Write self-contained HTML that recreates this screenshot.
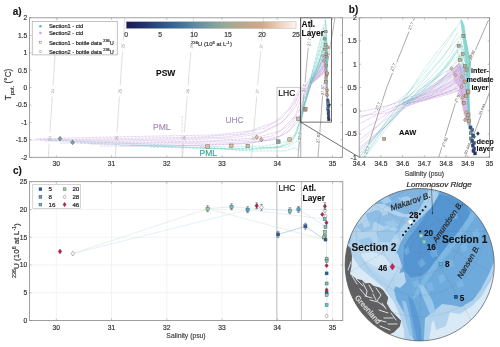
<!DOCTYPE html><html><head><meta charset="utf-8"><style>html,body{margin:0;padding:0;background:#fff;width:500px;height:347px;overflow:hidden} svg{display:block;will-change:transform} text{font-family:"Liberation Sans", sans-serif}</style></head><body>
<svg width="500" height="347" viewBox="0 0 500 347">
<defs>
<clipPath id="ca"><rect x="29.5" y="17.8" width="313" height="139.5"/></clipPath>
<clipPath id="cb"><rect x="359.2" y="17.8" width="130.4" height="139.4"/></clipPath>
<clipPath id="cc"><rect x="29.5" y="181.7" width="313.3" height="138.8"/></clipPath>
<clipPath id="cm"><ellipse cx="419.7" cy="264.7" rx="74.6" ry="76.2"/></clipPath>
<linearGradient id="cbar" x1="0" x2="1" y1="0" y2="0"><stop offset="0.0" stop-color="#1b1b55"/><stop offset="0.05" stop-color="#1d2561"/><stop offset="0.1" stop-color="#20306e"/><stop offset="0.15" stop-color="#25407b"/><stop offset="0.2" stop-color="#2a5088"/><stop offset="0.25" stop-color="#325e91"/><stop offset="0.3" stop-color="#3a6c9a"/><stop offset="0.35" stop-color="#497a9e"/><stop offset="0.4" stop-color="#5a8aa3"/><stop offset="0.45" stop-color="#6a94a1"/><stop offset="0.5" stop-color="#7a9fa0"/><stop offset="0.55" stop-color="#8ca59b"/><stop offset="0.6" stop-color="#9eab96"/><stop offset="0.65" stop-color="#ada990"/><stop offset="0.7" stop-color="#bca88a"/><stop offset="0.75" stop-color="#c7a887"/><stop offset="0.8" stop-color="#d3a985"/><stop offset="0.85" stop-color="#e0bb9f"/><stop offset="0.9" stop-color="#efcfba"/><stop offset="0.95" stop-color="#f6e1d5"/><stop offset="1.0" stop-color="#fdf5f2"/></linearGradient>
</defs>
<path d="M182.2,116 V157" stroke="#999" stroke-width="0.5" stroke-dasharray="0.6 0.8"/>
<path clip-path="url(#ca)" fill="none" stroke="#c4c4c4" stroke-width="0.55" d="M57.5,17.8 L48.3,157.3"/>
<path clip-path="url(#ca)" fill="none" stroke="#c4c4c4" stroke-width="0.55" d="M124.8,17.8 L115.3,157.3"/>
<path clip-path="url(#ca)" fill="none" stroke="#c4c4c4" stroke-width="0.55" d="M193.5,17.8 L182.4,157.3"/>
<path clip-path="url(#ca)" fill="none" stroke="#c4c4c4" stroke-width="0.55" d="M263.5,17.8 L251.5,157.3"/>
<path clip-path="url(#ca)" fill="none" stroke="#777" stroke-width="0.55" d="M311,17.8 L304.5,88 L298,157.3"/>
<path clip-path="url(#ca)" fill="none" stroke="#777" stroke-width="0.55" d="M335,17.8 L323,90 L318,157.3"/>
<g transform="translate(52.67247311827957,91) rotate(-85)"><rect x="-5.5" y="-2" width="11" height="4" fill="#fff"/><text x="0.00" y="1.60" font-size="4.2" fill="#999" stroke="#999" stroke-width="0" text-anchor="middle" font-weight="normal" font-style="normal" >24</text></g>
<g transform="translate(49.57283154121863,138) rotate(-85)"><rect x="-5.5" y="-2" width="11" height="4" fill="#fff"/><text x="0.00" y="1.60" font-size="4.2" fill="#999" stroke="#999" stroke-width="0" text-anchor="middle" font-weight="normal" font-style="normal" >24</text></g>
<g transform="translate(122.87956989247311,46) rotate(-85)"><rect x="-5.5" y="-2" width="11" height="4" fill="#fff"/><text x="0.00" y="1.60" font-size="4.2" fill="#999" stroke="#999" stroke-width="0" text-anchor="middle" font-weight="normal" font-style="normal" >25</text></g>
<g transform="translate(119.81505376344086,91) rotate(-85)"><rect x="-5.5" y="-2" width="11" height="4" fill="#fff"/><text x="0.00" y="1.60" font-size="4.2" fill="#999" stroke="#999" stroke-width="0" text-anchor="middle" font-weight="normal" font-style="normal" >25</text></g>
<g transform="translate(116.61433691756272,138) rotate(-85)"><rect x="-5.5" y="-2" width="11" height="4" fill="#fff"/><text x="0.00" y="1.60" font-size="4.2" fill="#999" stroke="#999" stroke-width="0" text-anchor="middle" font-weight="normal" font-style="normal" >25</text></g>
<g transform="translate(191.25612903225806,46) rotate(-85)"><rect x="-5.5" y="-2" width="11" height="4" fill="#fff"/><text x="0.00" y="1.60" font-size="4.2" fill="#999" stroke="#999" stroke-width="0" text-anchor="middle" font-weight="normal" font-style="normal" >26</text></g>
<g transform="translate(187.67548387096775,91) rotate(-85)"><rect x="-5.5" y="-2" width="11" height="4" fill="#fff"/><text x="0.00" y="1.60" font-size="4.2" fill="#999" stroke="#999" stroke-width="0" text-anchor="middle" font-weight="normal" font-style="normal" >26</text></g>
<g transform="translate(183.93569892473118,138) rotate(-85)"><rect x="-5.5" y="-2" width="11" height="4" fill="#fff"/><text x="0.00" y="1.60" font-size="4.2" fill="#999" stroke="#999" stroke-width="0" text-anchor="middle" font-weight="normal" font-style="normal" >26</text></g>
<g transform="translate(261.0741935483871,46) rotate(-85)"><rect x="-5.5" y="-2" width="11" height="4" fill="#fff"/><text x="0.00" y="1.60" font-size="4.2" fill="#999" stroke="#999" stroke-width="0" text-anchor="middle" font-weight="normal" font-style="normal" >27</text></g>
<g transform="translate(257.2032258064516,91) rotate(-85)"><rect x="-5.5" y="-2" width="11" height="4" fill="#fff"/><text x="0.00" y="1.60" font-size="4.2" fill="#999" stroke="#999" stroke-width="0" text-anchor="middle" font-weight="normal" font-style="normal" >27</text></g>
<g transform="translate(253.16021505376344,138) rotate(-85)"><rect x="-5.5" y="-2" width="11" height="4" fill="#fff"/><text x="0.00" y="1.60" font-size="4.2" fill="#999" stroke="#999" stroke-width="0" text-anchor="middle" font-weight="normal" font-style="normal" >27</text></g>
<g transform="translate(309,42) rotate(-85)"><rect x="-5.5" y="-2" width="11" height="4" fill="#fff"/><text x="0.00" y="1.60" font-size="4.2" fill="#555" stroke="#555" stroke-width="0" text-anchor="middle" font-weight="normal" font-style="normal" >27.7</text></g>
<g transform="translate(304,88) rotate(-85)"><rect x="-5.5" y="-2" width="11" height="4" fill="#fff"/><text x="0.00" y="1.60" font-size="4.2" fill="#555" stroke="#555" stroke-width="0" text-anchor="middle" font-weight="normal" font-style="normal" >27.7</text></g>
<g transform="translate(299.5,136) rotate(-85)"><rect x="-5.5" y="-2" width="11" height="4" fill="#fff"/><text x="0.00" y="1.60" font-size="4.2" fill="#555" stroke="#555" stroke-width="0" text-anchor="middle" font-weight="normal" font-style="normal" >27.7</text></g>
<g transform="translate(328,50) rotate(-85)"><rect x="-5.5" y="-2" width="11" height="4" fill="#fff"/><text x="0.00" y="1.60" font-size="4.2" fill="#555" stroke="#555" stroke-width="0" text-anchor="middle" font-weight="normal" font-style="normal" >27.87</text></g>
<g transform="translate(322.5,90) rotate(-85)"><rect x="-5.5" y="-2" width="11" height="4" fill="#fff"/><text x="0.00" y="1.60" font-size="4.2" fill="#555" stroke="#555" stroke-width="0" text-anchor="middle" font-weight="normal" font-style="normal" >27.87</text></g>
<g transform="translate(318,138) rotate(-85)"><rect x="-5.5" y="-2" width="11" height="4" fill="#fff"/><text x="0.00" y="1.60" font-size="4.2" fill="#555" stroke="#555" stroke-width="0" text-anchor="middle" font-weight="normal" font-style="normal" >27.87</text></g>
<g clip-path="url(#ca)" fill="none" stroke-linejoin="round">
<path d="M310.79,82.52 L317.40,70.51 L323.00,57.01 L325.03,51.00 L326.55,64.51 L327.06,79.52 L326.05,78.02 L324.52,73.52 L319.94,76.52 L314.86,79.52 Z" fill="#eadcf2" stroke="none" opacity="0.6"/>
<path d="M323.00,57.01 L324.77,51.00 L327.06,58.51 L327.32,72.01 L327.57,87.02 L327.95,99.78 L326.81,97.53 L325.54,83.27 L324.77,70.51 L323.50,64.51 Z" fill="#d9bfe6" stroke="none" opacity="0.8"/>
<path d="M30.00,140.00 L100.00,139.00 L150.00,138.00 L200.00,137.00 L240.00,134.00 L265.00,128.00 L282.00,118.00 L292.00,106.00 L297.00,98.00 L299.40,93.03 L304.69,87.02 L310.79,78.47 L314.86,75.02 L319.94,66.01 L323.76,58.51 L325.03,54.00 L325.79,64.51 L326.05,79.52 L326.81,90.78 L327.57,100.53" stroke="#c49bdb" stroke-width="0.69" stroke-opacity="0.9" stroke-dasharray="0.8 0.6"/>
<path d="M45.00,141.00 L120.00,141.00 L180.00,140.00 L230.00,138.00 L260.00,134.00 L280.00,124.00 L292.00,112.00 L296.00,106.00 L299.40,97.53 L305.20,88.53 L311.04,81.62 L316.13,75.77 L321.22,69.01 L324.52,61.51 L326.30,72.01 L326.81,87.02 L327.32,98.28" stroke="#c49bdb" stroke-width="0.69" stroke-opacity="0.9" stroke-dasharray="0.8 0.6"/>
<path d="M60.00,143.00 L140.00,143.00 L200.00,142.00 L250.00,140.00 L272.00,136.00 L288.00,126.00 L296.00,114.00 L298.00,108.00 L299.40,103.54 L305.71,91.53 L311.30,80.57 L317.40,76.52 L321.98,70.51 L324.52,66.01 L325.54,75.77 L326.55,90.78 L327.57,102.03" stroke="#c49bdb" stroke-width="0.69" stroke-opacity="0.9" stroke-dasharray="0.8 0.6"/>
<path d="M90.00,144.00 L160.00,144.00 L220.00,143.00 L260.00,141.00 L280.00,136.00 L292.00,124.00 L299.40,109.54 L305.96,94.53 L311.81,83.72 L317.40,78.02 L322.49,73.52 L324.27,70.51 L325.28,79.52 L326.30,93.03" stroke="#c49bdb" stroke-width="0.69" stroke-opacity="0.9" stroke-dasharray="0.8 0.6"/>
<path d="M120.00,146.00 L200.00,145.00 L250.00,143.00 L276.00,139.00 L290.00,130.00 L299.40,115.54 L306.72,97.53 L310.03,83.42 L318.67,76.52 L323.00,67.51 L325.03,64.51 L326.05,87.02 L327.06,99.03" stroke="#c49bdb" stroke-width="0.69" stroke-opacity="0.9" stroke-dasharray="0.8 0.6"/>
<path d="M36.00,139.00 L90.00,137.50 L160.00,136.00 L215.00,135.00 L250.00,131.00 L275.00,122.00 L290.00,108.00 L294.00,100.00 L299.40,88.53 L304.18,85.52 L309.52,81.32 L317.66,66.01 L321.22,58.51 L324.27,54.00 L325.28,58.51" stroke="#c49bdb" stroke-width="0.69" stroke-opacity="0.9" stroke-dasharray="0.8 0.6"/>
<path d="M310.28,82.52 L318.67,72.01 L324.37,63.91" stroke="#c49bdb" stroke-width="0.69" stroke-opacity="0.9" stroke-dasharray="0.8 0.6"/>
<path d="M310.54,80.72 L316.13,75.02 L321.22,64.51 L324.52,57.01 L325.79,70.51" stroke="#c49bdb" stroke-width="0.69" stroke-opacity="0.9" stroke-dasharray="0.8 0.6"/>
<path d="M310.54,82.37 L316.89,70.51 L321.98,60.01 L324.77,52.50 L325.54,61.51" stroke="#c49bdb" stroke-width="0.69" stroke-opacity="0.9" stroke-dasharray="0.8 0.6"/>
<path d="M311.30,82.07 L317.40,78.77 L322.49,75.02 L324.77,72.01 L325.79,83.27" stroke="#c49bdb" stroke-width="0.69" stroke-opacity="0.9" stroke-dasharray="0.8 0.6"/>
<path d="M100.00,146.00 L180.00,146.00 L240.00,144.00 L272.00,140.00 L288.00,132.00 L299.40,120.05 L304.69,103.54 L311.30,84.47 L317.91,77.27 L323.00,72.01 L325.03,67.51 L326.30,83.27" stroke="#c49bdb" stroke-width="0.69" stroke-opacity="0.9" stroke-dasharray="0.8 0.6"/>
<path d="M70.00,142.00 L150.00,142.00 L210.00,141.00 L255.00,138.00 L280.00,131.00 L293.00,118.00 L299.40,117.79 L305.71,100.53 L311.04,84.17 L316.89,75.77 L322.49,69.01 L324.77,63.01 L326.05,76.52" stroke="#c49bdb" stroke-width="0.69" stroke-opacity="0.9" stroke-dasharray="0.8 0.6"/>
<path d="M40.00,140.00 L110.00,140.00 L170.00,139.00 L225.00,137.00 L262.00,132.00 L284.00,121.00 L295.00,104.00 L299.40,91.53 L306.21,89.28 L311.81,83.57 L318.42,67.51 L323.00,58.51 L325.03,57.01 L325.79,72.01" stroke="#c49bdb" stroke-width="0.69" stroke-opacity="0.9" stroke-dasharray="0.8 0.6"/>
<path d="M299.40,112.54 L304.18,99.03 L308.76,84.02 L316.38,79.52 L321.98,73.52 L324.52,70.51" stroke="#c49bdb" stroke-width="0.69" stroke-opacity="0.9" stroke-dasharray="0.8 0.6"/>
<path d="M48.00,140.50 L70.00,141.00 L130.00,143.50 L180.00,145.50 L230.00,147.00 L265.00,146.00 L285.00,142.00 L295.00,135.00 L299.40,122.30 L304.69,102.03 L309.77,81.62 L317.40,54.00 L322.49,32.99 L325.41,19.48 L326.20,24.43 L326.50,35.24 L326.81,40.49 L327.72,53.10 L327.42,62.11 L327.11,79.52 L327.32,90.78 L327.70,99.03" stroke="#4cc3b6" stroke-width="0.6" stroke-opacity="0.9" stroke-dasharray="0.7 0.7"/>
<path d="M80.00,143.00 L150.00,146.00 L210.00,148.00 L250.00,149.00 L280.00,146.50 L293.00,139.00 L299.60,122.30 L305.20,100.53 L310.03,81.32 L317.40,63.01 L322.49,45.75 L324.67,35.24 L325.28,42.00 L326.05,57.01 L326.55,72.01 L327.06,87.02 L327.57,98.28" stroke="#4cc3b6" stroke-width="0.6" stroke-opacity="0.9" stroke-dasharray="0.7 0.7"/>
<path d="M130.00,145.00 L200.00,148.00 L240.00,150.00 L275.00,148.50 L290.00,143.00 L297.00,132.00 L300.11,122.30 L305.71,100.53 L310.54,84.47 L318.67,64.51 L323.00,49.50 L324.27,42.00 L325.54,49.50 L326.30,64.51 L326.81,79.52 L327.32,94.53" stroke="#4cc3b6" stroke-width="0.6" stroke-opacity="0.9" stroke-dasharray="0.7 0.7"/>
<path d="M200.00,147.00 L250.00,151.00 L285.00,151.00 L294.00,148.00 L298.00,150.00 L300.87,122.30 L306.21,101.28 L311.04,83.42 L319.94,66.01 L323.76,51.00 L325.79,43.50 L326.55,53.25 L326.94,72.01 L327.32,90.78" stroke="#4cc3b6" stroke-width="0.6" stroke-opacity="0.9" stroke-dasharray="0.7 0.7"/>
<path d="M150.00,147.00 L230.00,149.00 L280.00,147.00 L292.00,143.00 L298.00,130.00 L299.40,117.04 L304.69,102.03 L310.54,83.57 L316.13,68.26 L321.22,55.50 L325.54,38.24 L326.30,45.75 L326.68,60.76 L327.06,83.27" stroke="#4cc3b6" stroke-width="0.6" stroke-opacity="0.9" stroke-dasharray="0.7 0.7"/>
<path d="M260.00,148.00 L288.00,147.00 L299.00,140.00 L300.62,122.30 L305.96,99.78 L311.30,82.52 L314.86,72.01 L319.94,60.76 L323.76,48.00 L325.03,46.50 L325.79,58.51 L326.55,75.77" stroke="#4cc3b6" stroke-width="0.6" stroke-opacity="0.9" stroke-dasharray="0.7 0.7"/>
<path d="M311.30,79.22 L315.88,64.51 L321.22,45.75 L324.52,28.49" stroke="#4cc3b6" stroke-width="0.6" stroke-opacity="0.9" stroke-dasharray="0.7 0.7"/>
<path d="M311.55,82.37 L317.40,68.26 L324.37,43.50 L325.54,51.00" stroke="#4cc3b6" stroke-width="0.6" stroke-opacity="0.9" stroke-dasharray="0.7 0.7"/>
<path d="M309.52,79.82 L314.86,66.01 L319.44,51.00 L323.00,38.24 L325.03,31.49 L325.79,42.00 L326.55,57.01" stroke="#4cc3b6" stroke-width="0.6" stroke-opacity="0.9" stroke-dasharray="0.7 0.7"/>
<path d="M310.03,82.97 L316.13,70.51 L320.45,57.01 L323.76,43.50 L325.28,37.49 L326.05,49.50" stroke="#4cc3b6" stroke-width="0.6" stroke-opacity="0.9" stroke-dasharray="0.7 0.7"/>
<path d="M310.28,81.92 L316.89,73.52 L321.47,61.51 L324.52,49.50 L325.54,46.50 L326.30,60.76" stroke="#4cc3b6" stroke-width="0.6" stroke-opacity="0.9" stroke-dasharray="0.7 0.7"/>
<path d="M310.28,82.07 L314.35,63.01 L318.42,46.50 L321.98,32.99 L324.01,25.48" stroke="#4cc3b6" stroke-width="0.6" stroke-opacity="0.9" stroke-dasharray="0.7 0.7"/>
<path d="M311.04,83.27 L317.91,75.77 L322.49,63.01 L325.03,54.00 L326.05,64.51" stroke="#4cc3b6" stroke-width="0.6" stroke-opacity="0.9" stroke-dasharray="0.7 0.7"/>
<path d="M325.16,20.23 L325.41,18.73 L326.05,23.23 L326.55,32.99 L327.06,40.49 L327.83,52.50 L327.57,64.51 L327.44,79.52 L327.70,99.03 L327.19,99.03 L326.94,79.52 L326.94,64.51 L326.55,52.50 L326.05,40.49 L325.54,29.99 Z" fill="#5cc8bc" stroke="none" opacity="0.7"/>
</g>
<rect x="277" y="87.2" width="23.6" height="70.1" fill="none" stroke="#999" stroke-width="0.5"/>
<line x1="301" y1="17.8" x2="301" y2="157.3" stroke="#aaa" stroke-width="0.5"/>
<rect x="300.6" y="17.8" width="31" height="104.3" fill="none" stroke="#333" stroke-width="0.7"/>
<line x1="300.6" y1="122.1" x2="359.2" y2="157.2" stroke="#333" stroke-width="0.7"/>
<rect x="205.79999999999998" y="144.79999999999998" width="3.6" height="3.6" fill="#e0bb9f" stroke="#555" stroke-width="0.4"/>
<rect x="229.5" y="144.0" width="3.6" height="3.6" fill="#e0bb9f" stroke="#555" stroke-width="0.4"/>
<rect x="246.0" y="144.2" width="3.6" height="3.6" fill="#e0bb9f" stroke="#555" stroke-width="0.4"/>
<rect x="276.5" y="139.79999999999998" width="3.6" height="3.6" fill="#8ca59b" stroke="#555" stroke-width="0.4"/>
<rect x="287.8" y="137.79999999999998" width="3.6" height="3.6" fill="#e0bb9f" stroke="#555" stroke-width="0.4"/>
<rect x="296.4" y="117.0" width="3.6" height="3.6" fill="#e0bb9f" stroke="#555" stroke-width="0.4"/>
<rect x="303.4" y="107.60000000000001" width="3.6" height="3.6" fill="#d3a985" stroke="#555" stroke-width="0.4"/>
<path d="M256.7,134.89999999999998 L258.59999999999997,137.2 L256.7,139.5 L254.79999999999998,137.2 Z" fill="#e0bb9f" stroke="#444" stroke-width="0.4"/>
<path d="M261.3,137.29999999999998 L263.2,139.6 L261.3,141.9 L259.40000000000003,139.6 Z" fill="#e0bb9f" stroke="#444" stroke-width="0.4"/>
<path d="M60,136.29999999999998 L61.9,138.6 L60,140.9 L58.1,138.6 Z" fill="#81a19e" stroke="#444" stroke-width="0.4"/>
<path d="M72.6,140.1 L74.5,142.4 L72.6,144.70000000000002 L70.69999999999999,142.4 Z" fill="#81a19e" stroke="#444" stroke-width="0.4"/>
<text x="156.00" y="75.80" font-size="8.5" fill="#111" stroke="#111" stroke-width="0.1" text-anchor="start" font-weight="bold" font-style="normal" >PSW</text>
<text x="153.00" y="130.30" font-size="8.5" fill="#a58fb8" stroke="#a58fb8" stroke-width="0.18" text-anchor="start" font-weight="normal" font-style="normal" >PML</text>
<text x="199.50" y="155.80" font-size="8.5" fill="#3aa597" stroke="#3aa597" stroke-width="0.18" text-anchor="start" font-weight="normal" font-style="normal" >PML</text>
<text x="225.50" y="122.50" font-size="8.4" fill="#a58fb8" stroke="#a58fb8" stroke-width="0.18" text-anchor="start" font-weight="normal" font-style="normal" >UHC</text>
<text x="278.30" y="95.50" font-size="8.5" fill="#111" stroke="#111" stroke-width="0.18" text-anchor="start" font-weight="normal" font-style="normal" >LHC</text>
<text x="301.60" y="26.80" font-size="8.4" fill="#111" stroke="#111" stroke-width="0.1" text-anchor="start" font-weight="bold" font-style="normal" >Atl.</text>
<text x="301.60" y="35.90" font-size="8.4" fill="#111" stroke="#111" stroke-width="0.1" text-anchor="start" font-weight="bold" font-style="normal" >Layer</text>
<rect x="29.5" y="17.8" width="313" height="139.5" fill="none" stroke="#888" stroke-width="0.8"/>
<line x1="29.5" y1="17.80" x2="31.5" y2="17.80" stroke="#888" stroke-width="0.5"/>
<line x1="342.5" y1="17.80" x2="340.5" y2="17.80" stroke="#888" stroke-width="0.5"/>
<text x="27.30" y="20.20" font-size="6.7" fill="#333" stroke="#333" stroke-width="0.18" text-anchor="end" font-weight="normal" font-style="normal" >2</text>
<line x1="29.5" y1="35.24" x2="31.5" y2="35.24" stroke="#888" stroke-width="0.5"/>
<line x1="342.5" y1="35.24" x2="340.5" y2="35.24" stroke="#888" stroke-width="0.5"/>
<text x="27.30" y="37.64" font-size="6.7" fill="#333" stroke="#333" stroke-width="0.18" text-anchor="end" font-weight="normal" font-style="normal" >1.5</text>
<line x1="29.5" y1="52.67" x2="31.5" y2="52.67" stroke="#888" stroke-width="0.5"/>
<line x1="342.5" y1="52.67" x2="340.5" y2="52.67" stroke="#888" stroke-width="0.5"/>
<text x="27.30" y="55.07" font-size="6.7" fill="#333" stroke="#333" stroke-width="0.18" text-anchor="end" font-weight="normal" font-style="normal" >1</text>
<line x1="29.5" y1="70.11" x2="31.5" y2="70.11" stroke="#888" stroke-width="0.5"/>
<line x1="342.5" y1="70.11" x2="340.5" y2="70.11" stroke="#888" stroke-width="0.5"/>
<text x="27.30" y="72.51" font-size="6.7" fill="#333" stroke="#333" stroke-width="0.18" text-anchor="end" font-weight="normal" font-style="normal" >0.5</text>
<line x1="29.5" y1="87.55" x2="31.5" y2="87.55" stroke="#888" stroke-width="0.5"/>
<line x1="342.5" y1="87.55" x2="340.5" y2="87.55" stroke="#888" stroke-width="0.5"/>
<text x="27.30" y="89.95" font-size="6.7" fill="#333" stroke="#333" stroke-width="0.18" text-anchor="end" font-weight="normal" font-style="normal" >0</text>
<line x1="29.5" y1="104.99" x2="31.5" y2="104.99" stroke="#888" stroke-width="0.5"/>
<line x1="342.5" y1="104.99" x2="340.5" y2="104.99" stroke="#888" stroke-width="0.5"/>
<text x="27.30" y="107.39" font-size="6.7" fill="#333" stroke="#333" stroke-width="0.18" text-anchor="end" font-weight="normal" font-style="normal" >-0.5</text>
<line x1="29.5" y1="122.42" x2="31.5" y2="122.42" stroke="#888" stroke-width="0.5"/>
<line x1="342.5" y1="122.42" x2="340.5" y2="122.42" stroke="#888" stroke-width="0.5"/>
<text x="27.30" y="124.83" font-size="6.7" fill="#333" stroke="#333" stroke-width="0.18" text-anchor="end" font-weight="normal" font-style="normal" >-1</text>
<line x1="29.5" y1="139.86" x2="31.5" y2="139.86" stroke="#888" stroke-width="0.5"/>
<line x1="342.5" y1="139.86" x2="340.5" y2="139.86" stroke="#888" stroke-width="0.5"/>
<text x="27.30" y="142.26" font-size="6.7" fill="#333" stroke="#333" stroke-width="0.18" text-anchor="end" font-weight="normal" font-style="normal" >-1.5</text>
<line x1="29.5" y1="157.30" x2="31.5" y2="157.30" stroke="#888" stroke-width="0.5"/>
<line x1="342.5" y1="157.30" x2="340.5" y2="157.30" stroke="#888" stroke-width="0.5"/>
<text x="27.30" y="159.70" font-size="6.7" fill="#333" stroke="#333" stroke-width="0.18" text-anchor="end" font-weight="normal" font-style="normal" >-2</text>
<line x1="56.30" y1="157.3" x2="56.30" y2="155.3" stroke="#888" stroke-width="0.5"/>
<line x1="56.30" y1="17.8" x2="56.30" y2="19.8" stroke="#888" stroke-width="0.5"/>
<text x="56.30" y="166.40" font-size="6.7" fill="#333" stroke="#333" stroke-width="0.18" text-anchor="middle" font-weight="normal" font-style="normal" >30</text>
<line x1="111.55" y1="157.3" x2="111.55" y2="155.3" stroke="#888" stroke-width="0.5"/>
<line x1="111.55" y1="17.8" x2="111.55" y2="19.8" stroke="#888" stroke-width="0.5"/>
<text x="111.55" y="166.40" font-size="6.7" fill="#333" stroke="#333" stroke-width="0.18" text-anchor="middle" font-weight="normal" font-style="normal" >31</text>
<line x1="166.80" y1="157.3" x2="166.80" y2="155.3" stroke="#888" stroke-width="0.5"/>
<line x1="166.80" y1="17.8" x2="166.80" y2="19.8" stroke="#888" stroke-width="0.5"/>
<text x="166.80" y="166.40" font-size="6.7" fill="#333" stroke="#333" stroke-width="0.18" text-anchor="middle" font-weight="normal" font-style="normal" >32</text>
<line x1="222.05" y1="157.3" x2="222.05" y2="155.3" stroke="#888" stroke-width="0.5"/>
<line x1="222.05" y1="17.8" x2="222.05" y2="19.8" stroke="#888" stroke-width="0.5"/>
<text x="222.05" y="166.40" font-size="6.7" fill="#333" stroke="#333" stroke-width="0.18" text-anchor="middle" font-weight="normal" font-style="normal" >33</text>
<line x1="277.30" y1="157.3" x2="277.30" y2="155.3" stroke="#888" stroke-width="0.5"/>
<line x1="277.30" y1="17.8" x2="277.30" y2="19.8" stroke="#888" stroke-width="0.5"/>
<text x="277.30" y="166.40" font-size="6.7" fill="#333" stroke="#333" stroke-width="0.18" text-anchor="middle" font-weight="normal" font-style="normal" >34</text>
<line x1="332.55" y1="157.3" x2="332.55" y2="155.3" stroke="#888" stroke-width="0.5"/>
<line x1="332.55" y1="17.8" x2="332.55" y2="19.8" stroke="#888" stroke-width="0.5"/>
<text x="332.55" y="166.40" font-size="6.7" fill="#333" stroke="#333" stroke-width="0.18" text-anchor="middle" font-weight="normal" font-style="normal" >35</text>
<g transform="translate(11.3,84.4) rotate(-90)"><text x="0.00" y="0.00" font-size="8.3" fill="#333" stroke="#333" stroke-width="0.18" text-anchor="middle" font-weight="normal" font-style="normal" >T<tspan font-size="5.6" dy="2.4">pot.</tspan><tspan dy="-2.4"> (°C)</tspan></text></g>
<text x="12.80" y="14.60" font-size="10" fill="#111" stroke="#111" stroke-width="0.1" text-anchor="start" font-weight="bold" font-style="normal" >a)</text>
<rect x="32.2" y="21.3" width="85" height="33.6" fill="#fff" stroke="#999" stroke-width="0.6"/>
<circle cx="40.4" cy="26.2" r="1.3" fill="#4cc3b6"/>
<circle cx="40.4" cy="33" r="1.3" fill="#c9a3dd"/>
<rect x="39.2" y="41.3" width="2.4" height="2.4" fill="#fff" stroke="#555" stroke-width="0.4"/>
<path d="M40.4,49.9 L41.7,51.5 L40.4,53.1 L39.1,51.5 Z" fill="#fff" stroke="#555" stroke-width="0.4"/>
<text x="48.90" y="28.20" font-size="5.6" fill="#222" stroke="#222" stroke-width="0.18" text-anchor="start" font-weight="normal" font-style="normal" >Section1 - ctd</text>
<text x="48.90" y="35.00" font-size="5.6" fill="#222" stroke="#222" stroke-width="0.18" text-anchor="start" font-weight="normal" font-style="normal" >Section2 - ctd</text>
<text x="48.90" y="44.50" font-size="5.6" fill="#222" stroke="#222" stroke-width="0.18" text-anchor="start" font-weight="normal" font-style="normal" >Section1 - bottle data <tspan font-size="3.8" dy="-2.2">236</tspan><tspan dy="2.2">U</tspan></text>
<text x="48.90" y="53.50" font-size="5.6" fill="#222" stroke="#222" stroke-width="0.18" text-anchor="start" font-weight="normal" font-style="normal" >Section2 - bottle data <tspan font-size="3.8" dy="-2.2">236</tspan><tspan dy="2.2">U</tspan></text>
<rect x="126.2" y="21.7" width="169.8" height="6.8" fill="url(#cbar)" stroke="#aaa" stroke-width="0.4"/>
<text x="126.20" y="36.80" font-size="6.8" fill="#333" stroke="#333" stroke-width="0.18" text-anchor="middle" font-weight="normal" font-style="normal" >0</text>
<text x="160.16" y="36.80" font-size="6.8" fill="#333" stroke="#333" stroke-width="0.18" text-anchor="middle" font-weight="normal" font-style="normal" >5</text>
<text x="194.12" y="36.80" font-size="6.8" fill="#333" stroke="#333" stroke-width="0.18" text-anchor="middle" font-weight="normal" font-style="normal" >10</text>
<text x="228.08" y="36.80" font-size="6.8" fill="#333" stroke="#333" stroke-width="0.18" text-anchor="middle" font-weight="normal" font-style="normal" >15</text>
<text x="262.04" y="36.80" font-size="6.8" fill="#333" stroke="#333" stroke-width="0.18" text-anchor="middle" font-weight="normal" font-style="normal" >20</text>
<text x="296.00" y="36.80" font-size="6.8" fill="#333" stroke="#333" stroke-width="0.18" text-anchor="middle" font-weight="normal" font-style="normal" >25</text>
<text x="191.00" y="46.30" font-size="5.9" fill="#333" stroke="#333" stroke-width="0.18" text-anchor="start" font-weight="normal" font-style="normal" ><tspan font-size="4.2" dy="-2.4">236</tspan><tspan dy="2.4">U (10</tspan><tspan font-size="4.2" dy="-2.4">6</tspan><tspan dy="2.4"> at L</tspan><tspan font-size="4.2" dy="-2.4">-1</tspan><tspan dy="2.4">)</tspan></text>
<g fill="none" stroke="#555" stroke-width="0.5" clip-path="url(#cb)">
<path d="M364.5,157.2 L386.5,88 L414.5,18"/>
<path d="M438.8,157.2 L459.4,90 L472.4,57 L488.5,20"/>
<path d="M465.3,157.2 L489.6,92"/>
</g>
<g transform="translate(411,26) rotate(-68)"><rect x="-6" y="-2" width="12" height="4" fill="#fff"/><text x="0.00" y="1.40" font-size="4" fill="#444" stroke="#444" stroke-width="0" text-anchor="middle" font-weight="normal" font-style="normal" >27.7</text></g>
<g transform="translate(393,67) rotate(-68)"><rect x="-6" y="-2" width="12" height="4" fill="#fff"/><text x="0.00" y="1.40" font-size="4" fill="#444" stroke="#444" stroke-width="0" text-anchor="middle" font-weight="normal" font-style="normal" >27.7</text></g>
<g transform="translate(378,106) rotate(-68)"><rect x="-6" y="-2" width="12" height="4" fill="#fff"/><text x="0.00" y="1.40" font-size="4" fill="#444" stroke="#444" stroke-width="0" text-anchor="middle" font-weight="normal" font-style="normal" >27.7</text></g>
<g transform="translate(367,150) rotate(-68)"><rect x="-6" y="-2" width="12" height="4" fill="#fff"/><text x="0.00" y="1.40" font-size="4" fill="#444" stroke="#444" stroke-width="0" text-anchor="middle" font-weight="normal" font-style="normal" >27.7</text></g>
<g transform="translate(444.7,142) rotate(-68)"><rect x="-6" y="-2" width="12" height="4" fill="#fff"/><text x="0.00" y="1.40" font-size="4" fill="#444" stroke="#444" stroke-width="0" text-anchor="middle" font-weight="normal" font-style="normal" >27.92</text></g>
<g transform="translate(457.5,97.8) rotate(-68)"><rect x="-6" y="-2" width="12" height="4" fill="#fff"/><text x="0.00" y="1.40" font-size="4" fill="#444" stroke="#444" stroke-width="0" text-anchor="middle" font-weight="normal" font-style="normal" >27.92</text></g>
<g transform="translate(472,55) rotate(-68)"><rect x="-6" y="-2" width="12" height="4" fill="#fff"/><text x="0.00" y="1.40" font-size="4" fill="#444" stroke="#444" stroke-width="0" text-anchor="middle" font-weight="normal" font-style="normal" >27.92</text></g>
<g transform="translate(467.3,148.8) rotate(-68)"><rect x="-6" y="-2" width="12" height="4" fill="#fff"/><text x="0.00" y="1.40" font-size="4" fill="#444" stroke="#444" stroke-width="0" text-anchor="middle" font-weight="normal" font-style="normal" >30.444</text></g>
<g transform="translate(482,109.6) rotate(-68)"><rect x="-6" y="-2" width="12" height="4" fill="#fff"/><text x="0.00" y="1.40" font-size="4" fill="#444" stroke="#444" stroke-width="0" text-anchor="middle" font-weight="normal" font-style="normal" >30.444</text></g>
<g clip-path="url(#cb)" fill="none" stroke-linejoin="round">
<path d="M404.00,104.00 L430.00,88.00 L452.00,70.00 L460.00,62.00 L466.00,80.00 L468.00,100.00 L464.00,98.00 L458.00,92.00 L440.00,96.00 L420.00,100.00 Z" fill="#eadcf2" stroke="none" opacity="0.6"/>
<path d="M452.00,70.00 L459.00,62.00 L468.00,72.00 L469.00,90.00 L470.00,110.00 L471.50,127.00 L467.00,124.00 L462.00,105.00 L459.00,88.00 L454.00,80.00 Z" fill="#d9bfe6" stroke="none" opacity="0.8"/>
<path d="M-700.36,180.59 L-425.05,179.26 L-228.39,177.92 L-31.74,176.59 L125.58,172.59 L223.90,164.60 L290.77,151.27 L330.10,135.28 L349.76,124.62 L359.20,118.00 L380.00,110.00 L404.00,98.60 L420.00,94.00 L440.00,82.00 L455.00,72.00 L460.00,66.00 L463.00,80.00 L464.00,100.00 L467.00,115.00 L470.00,128.00" stroke="#c49bdb" stroke-width="0.75" stroke-opacity="0.85" stroke-dasharray="0.8 0.6"/>
<path d="M-641.36,181.92 L-346.39,181.92 L-110.40,180.59 L86.25,177.92 L204.24,172.59 L282.90,159.27 L330.10,143.28 L345.83,135.28 L359.20,124.00 L382.00,112.00 L405.00,102.80 L425.00,95.00 L445.00,86.00 L458.00,76.00 L465.00,90.00 L467.00,110.00 L469.00,125.00" stroke="#c49bdb" stroke-width="0.75" stroke-opacity="0.85" stroke-dasharray="0.8 0.6"/>
<path d="M-582.37,184.59 L-267.73,184.59 L-31.74,183.25 L164.91,180.59 L251.43,175.26 L314.36,161.93 L345.83,145.94 L353.69,137.95 L359.20,132.00 L384.00,116.00 L406.00,101.40 L430.00,96.00 L448.00,88.00 L458.00,82.00 L462.00,95.00 L466.00,115.00 L470.00,130.00" stroke="#c49bdb" stroke-width="0.75" stroke-opacity="0.85" stroke-dasharray="0.8 0.6"/>
<path d="M-464.38,185.92 L-189.06,185.92 L46.92,184.59 L204.24,181.92 L282.90,175.26 L330.10,159.27 L359.20,140.00 L385.00,120.00 L408.00,105.60 L430.00,98.00 L450.00,92.00 L457.00,88.00 L461.00,100.00 L465.00,118.00" stroke="#c49bdb" stroke-width="0.75" stroke-opacity="0.85" stroke-dasharray="0.8 0.6"/>
<path d="M-346.39,188.58 L-31.74,187.25 L164.91,184.59 L267.17,179.26 L322.23,167.26 L359.20,148.00 L388.00,124.00 L401.00,105.20 L435.00,96.00 L452.00,84.00 L460.00,80.00 L464.00,110.00 L468.00,126.00" stroke="#c49bdb" stroke-width="0.75" stroke-opacity="0.85" stroke-dasharray="0.8 0.6"/>
<path d="M-676.76,179.26 L-464.38,177.26 L-189.06,175.26 L27.25,173.93 L164.91,168.60 L263.23,156.60 L322.23,137.95 L337.96,127.29 L359.20,112.00 L378.00,108.00 L399.00,102.40 L431.00,82.00 L445.00,72.00 L457.00,66.00 L461.00,72.00" stroke="#c49bdb" stroke-width="0.75" stroke-opacity="0.85" stroke-dasharray="0.8 0.6"/>
<path d="M402.00,104.00 L435.00,90.00 L457.40,79.20" stroke="#c49bdb" stroke-width="0.75" stroke-opacity="0.85" stroke-dasharray="0.8 0.6"/>
<path d="M403.00,101.60 L425.00,94.00 L445.00,80.00 L458.00,70.00 L463.00,88.00" stroke="#c49bdb" stroke-width="0.75" stroke-opacity="0.85" stroke-dasharray="0.8 0.6"/>
<path d="M403.00,103.80 L428.00,88.00 L448.00,74.00 L459.00,64.00 L462.00,76.00" stroke="#c49bdb" stroke-width="0.75" stroke-opacity="0.85" stroke-dasharray="0.8 0.6"/>
<path d="M406.00,103.40 L430.00,99.00 L450.00,94.00 L459.00,90.00 L463.00,105.00" stroke="#c49bdb" stroke-width="0.75" stroke-opacity="0.85" stroke-dasharray="0.8 0.6"/>
<path d="M-425.05,188.58 L-110.40,188.58 L125.58,185.92 L251.43,180.59 L314.36,169.93 L359.20,154.00 L380.00,132.00 L406.00,106.60 L432.00,97.00 L452.00,90.00 L460.00,84.00 L465.00,105.00" stroke="#c49bdb" stroke-width="0.75" stroke-opacity="0.85" stroke-dasharray="0.8 0.6"/>
<path d="M-543.04,183.25 L-228.39,183.25 L7.59,181.92 L184.57,177.92 L282.90,168.60 L334.03,151.27 L359.20,151.00 L384.00,128.00 L405.00,106.20 L428.00,95.00 L450.00,86.00 L459.00,78.00 L464.00,96.00" stroke="#c49bdb" stroke-width="0.75" stroke-opacity="0.85" stroke-dasharray="0.8 0.6"/>
<path d="M-661.03,180.59 L-385.72,180.59 L-149.73,179.26 L66.58,176.59 L212.10,169.93 L298.63,155.27 L341.89,132.62 L359.20,116.00 L386.00,113.00 L408.00,105.40 L434.00,84.00 L452.00,72.00 L460.00,70.00 L463.00,90.00" stroke="#c49bdb" stroke-width="0.75" stroke-opacity="0.85" stroke-dasharray="0.8 0.6"/>
<path d="M359.20,144.00 L378.00,126.00 L396.00,106.00 L426.00,100.00 L448.00,92.00 L458.00,88.00" stroke="#c49bdb" stroke-width="0.75" stroke-opacity="0.85" stroke-dasharray="0.8 0.6"/>
<path d="M-629.56,181.25 L-543.04,181.92 L-307.06,185.25 L-110.40,187.92 L86.25,189.92 L223.90,188.58 L302.56,183.25 L341.89,173.93 L359.20,157.00 L380.00,130.00 L400.00,102.80 L430.00,66.00 L450.00,38.00 L461.50,20.00 L464.60,26.60 L465.80,41.00 L467.00,48.00 L470.60,64.80 L469.40,76.80 L468.20,100.00 L469.00,115.00 L470.50,126.00" stroke="#4cc3b6" stroke-width="0.65" stroke-opacity="0.85" stroke-dasharray="0.7 0.7"/>
<path d="M-503.71,184.59 L-228.39,188.58 L7.59,191.25 L164.91,192.58 L282.90,189.25 L334.03,179.26 L360.00,157.00 L382.00,128.00 L401.00,102.40 L430.00,78.00 L450.00,55.00 L458.60,41.00 L461.00,50.00 L464.00,70.00 L466.00,90.00 L468.00,110.00 L470.00,125.00" stroke="#4cc3b6" stroke-width="0.65" stroke-opacity="0.85" stroke-dasharray="0.7 0.7"/>
<path d="M-307.06,187.25 L-31.74,191.25 L125.58,193.91 L263.23,191.91 L322.23,184.59 L349.76,169.93 L362.00,157.00 L384.00,128.00 L403.00,106.60 L435.00,80.00 L452.00,60.00 L457.00,50.00 L462.00,60.00 L465.00,80.00 L467.00,100.00 L469.00,120.00" stroke="#4cc3b6" stroke-width="0.65" stroke-opacity="0.85" stroke-dasharray="0.7 0.7"/>
<path d="M-31.74,189.92 L164.91,195.25 L302.56,195.25 L337.96,191.25 L353.69,193.91 L365.00,157.00 L386.00,129.00 L405.00,105.20 L440.00,82.00 L455.00,62.00 L463.00,52.00 L466.00,65.00 L467.50,90.00 L469.00,115.00" stroke="#4cc3b6" stroke-width="0.65" stroke-opacity="0.85" stroke-dasharray="0.7 0.7"/>
<path d="M-228.39,189.92 L86.25,192.58 L282.90,189.92 L330.10,184.59 L353.69,167.26 L359.20,150.00 L380.00,130.00 L403.00,105.40 L425.00,85.00 L445.00,68.00 L462.00,45.00 L465.00,55.00 L466.50,75.00 L468.00,105.00" stroke="#4cc3b6" stroke-width="0.65" stroke-opacity="0.85" stroke-dasharray="0.7 0.7"/>
<path d="M204.24,191.25 L314.36,189.92 L357.63,180.59 L364.00,157.00 L385.00,127.00 L406.00,104.00 L420.00,90.00 L440.00,75.00 L455.00,58.00 L460.00,56.00 L463.00,72.00 L466.00,95.00" stroke="#4cc3b6" stroke-width="0.65" stroke-opacity="0.85" stroke-dasharray="0.7 0.7"/>
<path d="M406.00,99.60 L424.00,80.00 L445.00,55.00 L458.00,32.00" stroke="#4cc3b6" stroke-width="0.65" stroke-opacity="0.85" stroke-dasharray="0.7 0.7"/>
<path d="M407.00,103.80 L430.00,85.00 L457.40,52.00 L462.00,62.00" stroke="#4cc3b6" stroke-width="0.65" stroke-opacity="0.85" stroke-dasharray="0.7 0.7"/>
<path d="M399.00,100.40 L420.00,82.00 L438.00,62.00 L452.00,45.00 L460.00,36.00 L463.00,50.00 L466.00,70.00" stroke="#4cc3b6" stroke-width="0.65" stroke-opacity="0.85" stroke-dasharray="0.7 0.7"/>
<path d="M401.00,104.60 L425.00,88.00 L442.00,70.00 L455.00,52.00 L461.00,44.00 L464.00,60.00" stroke="#4cc3b6" stroke-width="0.65" stroke-opacity="0.85" stroke-dasharray="0.7 0.7"/>
<path d="M402.00,103.20 L428.00,92.00 L446.00,76.00 L458.00,60.00 L462.00,56.00 L465.00,75.00" stroke="#4cc3b6" stroke-width="0.65" stroke-opacity="0.85" stroke-dasharray="0.7 0.7"/>
<path d="M402.00,103.40 L418.00,78.00 L434.00,56.00 L448.00,38.00 L456.00,28.00" stroke="#4cc3b6" stroke-width="0.65" stroke-opacity="0.85" stroke-dasharray="0.7 0.7"/>
<path d="M405.00,105.00 L432.00,95.00 L450.00,78.00 L460.00,66.00 L464.00,80.00" stroke="#4cc3b6" stroke-width="0.65" stroke-opacity="0.85" stroke-dasharray="0.7 0.7"/>
<path d="M460.50,21.00 L461.50,19.00 L464.00,25.00 L466.00,38.00 L468.00,48.00 L471.00,64.00 L470.00,80.00 L469.50,100.00 L470.50,126.00 L468.50,126.00 L467.50,100.00 L467.50,80.00 L466.00,64.00 L464.00,48.00 L462.00,34.00 Z" fill="#5cc8bc" stroke="none" opacity="0.7"/>
</g>
<rect x="461.80" y="34.50" width="3.20" height="3.20" fill="#a4aa93" stroke="#555" stroke-width="0.35"/>
<rect x="457.00" y="44.10" width="3.20" height="3.20" fill="#b0a98e" stroke="#555" stroke-width="0.35"/>
<rect x="461.10" y="52.50" width="3.20" height="3.20" fill="#d3a985" stroke="#555" stroke-width="0.35"/>
<rect x="458.20" y="58.40" width="3.20" height="3.20" fill="#d3a985" stroke="#555" stroke-width="0.35"/>
<rect x="463.40" y="64.40" width="3.20" height="3.20" fill="#b6a88c" stroke="#555" stroke-width="0.35"/>
<rect x="464.90" y="68.00" width="3.20" height="3.20" fill="#bca88a" stroke="#555" stroke-width="0.35"/>
<rect x="463.00" y="80.00" width="3.20" height="3.20" fill="#c5a888" stroke="#555" stroke-width="0.35"/>
<rect x="466.60" y="90.80" width="3.20" height="3.20" fill="#d3a985" stroke="#555" stroke-width="0.35"/>
<rect x="464.20" y="94.40" width="3.20" height="3.20" fill="#d3a985" stroke="#555" stroke-width="0.35"/>
<rect x="466.80" y="89.90" width="3.20" height="3.20" fill="#cea886" stroke="#555" stroke-width="0.35"/>
<rect x="462.20" y="101.40" width="3.20" height="3.20" fill="#d3a985" stroke="#555" stroke-width="0.35"/>
<rect x="466.80" y="113.00" width="3.20" height="3.20" fill="#c7a887" stroke="#555" stroke-width="0.35"/>
<rect x="467.40" y="119.40" width="3.20" height="3.20" fill="#c7a887" stroke="#555" stroke-width="0.35"/>
<rect x="382.60" y="137.40" width="3.20" height="3.20" fill="#c0a889" stroke="#555" stroke-width="0.35"/>
<path d="M470.60,54.50 L472.20,56.50 L470.60,58.50 L469.00,56.50 Z" fill="#d8b08f" stroke="#555" stroke-width="0.35"/>
<path d="M451.40,66.40 L453.00,68.40 L451.40,70.40 L449.80,68.40 Z" fill="#e0bb9f" stroke="#555" stroke-width="0.35"/>
<path d="M455.50,72.90 L457.10,74.90 L455.50,76.90 L453.90,74.90 Z" fill="#e0bb9f" stroke="#555" stroke-width="0.35"/>
<path d="M461.70,74.80 L463.30,76.80 L461.70,78.80 L460.10,76.80 Z" fill="#e0bb9f" stroke="#555" stroke-width="0.35"/>
<path d="M461.50,84.90 L463.10,86.90 L461.50,88.90 L459.90,86.90 Z" fill="#e0bb9f" stroke="#555" stroke-width="0.35"/>
<path d="M462.60,95.30 L464.20,97.30 L462.60,99.30 L461.00,97.30 Z" fill="#e0bb9f" stroke="#555" stroke-width="0.35"/>
<path d="M466.00,110.30 L467.60,112.30 L466.00,114.30 L464.40,112.30 Z" fill="#dbb494" stroke="#555" stroke-width="0.35"/>
<path d="M467.20,116.00 L468.80,118.00 L467.20,120.00 L465.60,118.00 Z" fill="#dbb494" stroke="#555" stroke-width="0.35"/>
<path d="M464.90,118.00 L466.50,120.00 L464.90,122.00 L463.30,120.00 Z" fill="#d8b08f" stroke="#555" stroke-width="0.35"/>
<rect x="468.90" y="125.90" width="3.20" height="3.20" fill="#2d558b" stroke="#555" stroke-width="0.35"/>
<rect x="470.60" y="128.40" width="3.20" height="3.20" fill="#3a6c9a" stroke="#555" stroke-width="0.35"/>
<rect x="469.20" y="131.40" width="3.20" height="3.20" fill="#6a94a1" stroke="#555" stroke-width="0.35"/>
<rect x="471.40" y="133.90" width="3.20" height="3.20" fill="#2a5088" stroke="#555" stroke-width="0.35"/>
<rect x="469.30" y="136.90" width="3.20" height="3.20" fill="#5a8aa3" stroke="#555" stroke-width="0.35"/>
<rect x="470.70" y="139.40" width="3.20" height="3.20" fill="#284982" stroke="#555" stroke-width="0.35"/>
<rect x="472.40" y="141.40" width="3.20" height="3.20" fill="#2d558b" stroke="#555" stroke-width="0.35"/>
<rect x="471.20" y="143.90" width="3.20" height="3.20" fill="#25407b" stroke="#555" stroke-width="0.35"/>
<rect x="472.60" y="146.90" width="3.20" height="3.20" fill="#2a5088" stroke="#555" stroke-width="0.35"/>
<rect x="471.90" y="149.40" width="3.20" height="3.20" fill="#223673" stroke="#555" stroke-width="0.35"/>
<rect x="473.40" y="151.80" width="3.20" height="3.20" fill="#20306e" stroke="#555" stroke-width="0.35"/>
<path d="M477.90,131.60 L479.50,133.60 L477.90,135.60 L476.30,133.60 Z" fill="#1d2561" stroke="#555" stroke-width="0.35"/>
<path d="M474.20,134.70 L475.80,136.70 L474.20,138.70 L472.60,136.70 Z" fill="#325e91" stroke="#555" stroke-width="0.35"/>
<g clip-path="url(#ca)">
<rect x="324.61" y="30.28" width="2.56" height="2.56" fill="#a4aa93" stroke="#555" stroke-width="0.35"/>
<rect x="323.39" y="37.49" width="2.56" height="2.56" fill="#b0a98e" stroke="#555" stroke-width="0.35"/>
<rect x="324.44" y="43.79" width="2.56" height="2.56" fill="#d3a985" stroke="#555" stroke-width="0.35"/>
<rect x="323.70" y="48.22" width="2.56" height="2.56" fill="#d3a985" stroke="#555" stroke-width="0.35"/>
<rect x="325.02" y="52.72" width="2.56" height="2.56" fill="#b6a88c" stroke="#555" stroke-width="0.35"/>
<rect x="325.40" y="55.43" width="2.56" height="2.56" fill="#bca88a" stroke="#555" stroke-width="0.35"/>
<rect x="324.92" y="64.43" width="2.56" height="2.56" fill="#c5a888" stroke="#555" stroke-width="0.35"/>
<rect x="325.83" y="72.54" width="2.56" height="2.56" fill="#d3a985" stroke="#555" stroke-width="0.35"/>
<rect x="325.22" y="75.24" width="2.56" height="2.56" fill="#d3a985" stroke="#555" stroke-width="0.35"/>
<rect x="325.88" y="71.86" width="2.56" height="2.56" fill="#cea886" stroke="#555" stroke-width="0.35"/>
<rect x="324.72" y="80.49" width="2.56" height="2.56" fill="#d3a985" stroke="#555" stroke-width="0.35"/>
<rect x="325.88" y="89.20" width="2.56" height="2.56" fill="#c7a887" stroke="#555" stroke-width="0.35"/>
<rect x="326.04" y="94.00" width="2.56" height="2.56" fill="#c7a887" stroke="#555" stroke-width="0.35"/>
<rect x="304.48" y="107.51" width="2.56" height="2.56" fill="#c0a889" stroke="#555" stroke-width="0.35"/>
<path d="M327.72,45.27 L329.00,46.87 L327.72,48.47 L326.44,46.87 Z" fill="#d8b08f" stroke="#555" stroke-width="0.35"/>
<path d="M322.84,54.20 L324.12,55.80 L322.84,57.40 L321.56,55.80 Z" fill="#e0bb9f" stroke="#555" stroke-width="0.35"/>
<path d="M323.88,59.08 L325.16,60.68 L323.88,62.28 L322.60,60.68 Z" fill="#e0bb9f" stroke="#555" stroke-width="0.35"/>
<path d="M325.46,60.51 L326.74,62.11 L325.46,63.71 L324.18,62.11 Z" fill="#e0bb9f" stroke="#555" stroke-width="0.35"/>
<path d="M325.41,68.09 L326.69,69.69 L325.41,71.29 L324.13,69.69 Z" fill="#e0bb9f" stroke="#555" stroke-width="0.35"/>
<path d="M325.69,75.89 L326.97,77.49 L325.69,79.09 L324.41,77.49 Z" fill="#e0bb9f" stroke="#555" stroke-width="0.35"/>
<path d="M326.55,87.15 L327.83,88.75 L326.55,90.35 L325.27,88.75 Z" fill="#dbb494" stroke="#555" stroke-width="0.35"/>
<path d="M326.86,91.43 L328.14,93.03 L326.86,94.63 L325.58,93.03 Z" fill="#dbb494" stroke="#555" stroke-width="0.35"/>
<path d="M326.27,92.93 L327.55,94.53 L326.27,96.13 L324.99,94.53 Z" fill="#d8b08f" stroke="#555" stroke-width="0.35"/>
<rect x="326.42" y="98.88" width="2.56" height="2.56" fill="#2d558b" stroke="#555" stroke-width="0.35"/>
<rect x="326.85" y="100.75" width="2.56" height="2.56" fill="#3a6c9a" stroke="#555" stroke-width="0.35"/>
<rect x="326.50" y="103.01" width="2.56" height="2.56" fill="#6a94a1" stroke="#555" stroke-width="0.35"/>
<rect x="327.05" y="104.88" width="2.56" height="2.56" fill="#2a5088" stroke="#555" stroke-width="0.35"/>
<rect x="326.52" y="107.13" width="2.56" height="2.56" fill="#5a8aa3" stroke="#555" stroke-width="0.35"/>
<rect x="326.88" y="109.01" width="2.56" height="2.56" fill="#284982" stroke="#555" stroke-width="0.35"/>
<rect x="327.31" y="110.51" width="2.56" height="2.56" fill="#2d558b" stroke="#555" stroke-width="0.35"/>
<rect x="327.00" y="112.39" width="2.56" height="2.56" fill="#25407b" stroke="#555" stroke-width="0.35"/>
<rect x="327.36" y="114.64" width="2.56" height="2.56" fill="#2a5088" stroke="#555" stroke-width="0.35"/>
<rect x="327.18" y="116.51" width="2.56" height="2.56" fill="#223673" stroke="#555" stroke-width="0.35"/>
<rect x="327.56" y="118.32" width="2.56" height="2.56" fill="#20306e" stroke="#555" stroke-width="0.35"/>
<path d="M329.58,103.14 L330.86,104.74 L329.58,106.34 L328.30,104.74 Z" fill="#1d2561" stroke="#555" stroke-width="0.35"/>
<path d="M328.64,105.46 L329.92,107.06 L328.64,108.66 L327.36,107.06 Z" fill="#325e91" stroke="#555" stroke-width="0.35"/>
</g>
<text x="480.00" y="72.80" font-size="7.2" fill="#111" stroke="#111" stroke-width="0.1" text-anchor="middle" font-weight="bold" font-style="normal" >inter-</text>
<text x="480.00" y="81.50" font-size="7.2" fill="#111" stroke="#111" stroke-width="0.1" text-anchor="middle" font-weight="bold" font-style="normal" >mediate</text>
<text x="480.00" y="89.90" font-size="7.2" fill="#111" stroke="#111" stroke-width="0.1" text-anchor="middle" font-weight="bold" font-style="normal" >layer</text>
<text x="476.60" y="143.60" font-size="7.4" fill="#111" stroke="#111" stroke-width="0.1" text-anchor="start" font-weight="bold" font-style="normal" >deep</text>
<text x="476.60" y="151.40" font-size="7.4" fill="#111" stroke="#111" stroke-width="0.1" text-anchor="start" font-weight="bold" font-style="normal" >layer</text>
<text x="398.90" y="135.00" font-size="7.4" fill="#111" stroke="#111" stroke-width="0.1" text-anchor="start" font-weight="bold" font-style="normal" >AAW</text>
<rect x="359.2" y="17.8" width="130.4" height="139.4" fill="none" stroke="#888" stroke-width="0.8"/>
<line x1="342.5" y1="17.8" x2="359.2" y2="17.8" stroke="#999" stroke-width="0.6"/>
<line x1="359.2" y1="17.76" x2="361.2" y2="17.76" stroke="#888" stroke-width="0.5"/>
<line x1="489.6" y1="17.76" x2="487.6" y2="17.76" stroke="#888" stroke-width="0.5"/>
<text x="356.80" y="20.16" font-size="6.7" fill="#333" stroke="#333" stroke-width="0.18" text-anchor="end" font-weight="normal" font-style="normal" >2</text>
<line x1="359.2" y1="41.00" x2="361.2" y2="41.00" stroke="#888" stroke-width="0.5"/>
<line x1="489.6" y1="41.00" x2="487.6" y2="41.00" stroke="#888" stroke-width="0.5"/>
<text x="356.80" y="43.40" font-size="6.7" fill="#333" stroke="#333" stroke-width="0.18" text-anchor="end" font-weight="normal" font-style="normal" >1.5</text>
<line x1="359.2" y1="64.23" x2="361.2" y2="64.23" stroke="#888" stroke-width="0.5"/>
<line x1="489.6" y1="64.23" x2="487.6" y2="64.23" stroke="#888" stroke-width="0.5"/>
<text x="356.80" y="66.63" font-size="6.7" fill="#333" stroke="#333" stroke-width="0.18" text-anchor="end" font-weight="normal" font-style="normal" >1</text>
<line x1="359.2" y1="87.47" x2="361.2" y2="87.47" stroke="#888" stroke-width="0.5"/>
<line x1="489.6" y1="87.47" x2="487.6" y2="87.47" stroke="#888" stroke-width="0.5"/>
<text x="356.80" y="89.87" font-size="6.7" fill="#333" stroke="#333" stroke-width="0.18" text-anchor="end" font-weight="normal" font-style="normal" >0.5</text>
<line x1="359.2" y1="110.70" x2="361.2" y2="110.70" stroke="#888" stroke-width="0.5"/>
<line x1="489.6" y1="110.70" x2="487.6" y2="110.70" stroke="#888" stroke-width="0.5"/>
<text x="356.80" y="113.10" font-size="6.7" fill="#333" stroke="#333" stroke-width="0.18" text-anchor="end" font-weight="normal" font-style="normal" >0</text>
<line x1="359.2" y1="133.94" x2="361.2" y2="133.94" stroke="#888" stroke-width="0.5"/>
<line x1="489.6" y1="133.94" x2="487.6" y2="133.94" stroke="#888" stroke-width="0.5"/>
<text x="356.80" y="136.34" font-size="6.7" fill="#333" stroke="#333" stroke-width="0.18" text-anchor="end" font-weight="normal" font-style="normal" >-0.5</text>
<line x1="359.2" y1="157.17" x2="361.2" y2="157.17" stroke="#888" stroke-width="0.5"/>
<line x1="489.6" y1="157.17" x2="487.6" y2="157.17" stroke="#888" stroke-width="0.5"/>
<text x="356.80" y="159.57" font-size="6.7" fill="#333" stroke="#333" stroke-width="0.18" text-anchor="end" font-weight="normal" font-style="normal" >-1</text>
<line x1="359.20" y1="157.2" x2="359.20" y2="155.2" stroke="#888" stroke-width="0.5"/>
<line x1="359.20" y1="17.8" x2="359.20" y2="19.8" stroke="#888" stroke-width="0.5"/>
<text x="359.20" y="166.40" font-size="6.7" fill="#333" stroke="#333" stroke-width="0.18" text-anchor="middle" font-weight="normal" font-style="normal" >34.4</text>
<line x1="380.93" y1="157.2" x2="380.93" y2="155.2" stroke="#888" stroke-width="0.5"/>
<line x1="380.93" y1="17.8" x2="380.93" y2="19.8" stroke="#888" stroke-width="0.5"/>
<text x="380.93" y="166.40" font-size="6.7" fill="#333" stroke="#333" stroke-width="0.18" text-anchor="middle" font-weight="normal" font-style="normal" >34.5</text>
<line x1="402.66" y1="157.2" x2="402.66" y2="155.2" stroke="#888" stroke-width="0.5"/>
<line x1="402.66" y1="17.8" x2="402.66" y2="19.8" stroke="#888" stroke-width="0.5"/>
<text x="402.66" y="166.40" font-size="6.7" fill="#333" stroke="#333" stroke-width="0.18" text-anchor="middle" font-weight="normal" font-style="normal" >34.6</text>
<line x1="424.39" y1="157.2" x2="424.39" y2="155.2" stroke="#888" stroke-width="0.5"/>
<line x1="424.39" y1="17.8" x2="424.39" y2="19.8" stroke="#888" stroke-width="0.5"/>
<text x="424.39" y="166.40" font-size="6.7" fill="#333" stroke="#333" stroke-width="0.18" text-anchor="middle" font-weight="normal" font-style="normal" >34.7</text>
<line x1="446.12" y1="157.2" x2="446.12" y2="155.2" stroke="#888" stroke-width="0.5"/>
<line x1="446.12" y1="17.8" x2="446.12" y2="19.8" stroke="#888" stroke-width="0.5"/>
<text x="446.12" y="166.40" font-size="6.7" fill="#333" stroke="#333" stroke-width="0.18" text-anchor="middle" font-weight="normal" font-style="normal" >34.8</text>
<line x1="467.85" y1="157.2" x2="467.85" y2="155.2" stroke="#888" stroke-width="0.5"/>
<line x1="467.85" y1="17.8" x2="467.85" y2="19.8" stroke="#888" stroke-width="0.5"/>
<text x="467.85" y="166.40" font-size="6.7" fill="#333" stroke="#333" stroke-width="0.18" text-anchor="middle" font-weight="normal" font-style="normal" >34.9</text>
<line x1="489.58" y1="157.2" x2="489.58" y2="155.2" stroke="#888" stroke-width="0.5"/>
<line x1="489.58" y1="17.8" x2="489.58" y2="19.8" stroke="#888" stroke-width="0.5"/>
<text x="489.58" y="166.40" font-size="6.7" fill="#333" stroke="#333" stroke-width="0.18" text-anchor="middle" font-weight="normal" font-style="normal" >35</text>
<text x="424.40" y="175.60" font-size="6.8" fill="#444" stroke="#444" stroke-width="0.18" text-anchor="middle" font-weight="normal" font-style="normal" >Salinity (psu)</text>
<text x="348.80" y="13.40" font-size="10" fill="#111" stroke="#111" stroke-width="0.1" text-anchor="start" font-weight="bold" font-style="normal" >b)</text>
<g stroke="#e6e6e6" stroke-width="0.5">
<line x1="29.5" y1="292.75" x2="342.8" y2="292.75"/>
<line x1="29.5" y1="265.00" x2="342.8" y2="265.00"/>
<line x1="29.5" y1="237.25" x2="342.8" y2="237.25"/>
<line x1="29.5" y1="209.50" x2="342.8" y2="209.50"/>
<line x1="56.30" y1="181.7" x2="56.30" y2="320.5"/>
<line x1="111.55" y1="181.7" x2="111.55" y2="320.5"/>
<line x1="166.80" y1="181.7" x2="166.80" y2="320.5"/>
<line x1="222.05" y1="181.7" x2="222.05" y2="320.5"/>
<line x1="277.30" y1="181.7" x2="277.30" y2="320.5"/>
<line x1="332.55" y1="181.7" x2="332.55" y2="320.5"/>
</g>
<line x1="276.8" y1="181.7" x2="276.8" y2="320.5" stroke="#999" stroke-width="0.6"/>
<line x1="301.4" y1="181.7" x2="301.4" y2="320.5" stroke="#999" stroke-width="0.6"/>
<g fill="none" stroke-width="0.5">
<path d="M72.8,253.6 L207.6,208.7 L325,240" stroke="#cfe3cf" />
<path d="M207.6,208.7 L231.5,206.8 L289.9,210.7 L298.5,209.4 L325,226" stroke="#b9e0dc"/>
<path d="M72.8,253.6 L247.6,209.7 L325,219" stroke="#cfe0ee"/>
<path d="M278.1,234.4 L305.4,226.3 L325,240" stroke="#7fa9d6"/>
<path d="M325,206 L326.5,240 L327,316" stroke="#a8ddd7"/>
</g>
<path d="M207.6,205.7 V211.7 M206.29999999999998,205.7 H208.9 M206.29999999999998,211.7 H208.9" stroke="#444" stroke-width="0.5"/>
<rect x="206.00" y="207.10" width="3.2" height="3.2" fill="#98d09a" stroke="#445" stroke-width="0.4"/>
<path d="M231.5,203.8 V209.8 M230.2,203.8 H232.8 M230.2,209.8 H232.8" stroke="#444" stroke-width="0.5"/>
<rect x="229.90" y="205.20" width="3.2" height="3.2" fill="#6cc4bd" stroke="#445" stroke-width="0.4"/>
<path d="M247.6,206.7 V212.7 M246.29999999999998,206.7 H248.9 M246.29999999999998,212.7 H248.9" stroke="#444" stroke-width="0.5"/>
<rect x="246.00" y="208.10" width="3.2" height="3.2" fill="#4fa3d6" stroke="#445" stroke-width="0.4"/>
<path d="M256.7,202.8 V208.8 M255.39999999999998,202.8 H258.0 M255.39999999999998,208.8 H258.0" stroke="#444" stroke-width="0.5"/>
<path d="M256.7,203.4 L258.5,205.8 L256.7,208.20000000000002 L254.89999999999998,205.8 Z" fill="#c8184a" stroke="#444" stroke-width="0.4"/>
<path d="M261.5,204.3 V210.3 M260.2,204.3 H262.8 M260.2,210.3 H262.8" stroke="#444" stroke-width="0.5"/>
<path d="M261.5,204.9 L263.3,207.3 L261.5,209.70000000000002 L259.7,207.3 Z" fill="#fff" stroke="#444" stroke-width="0.4"/>
<path d="M289.9,207.7 V213.7 M288.59999999999997,207.7 H291.2 M288.59999999999997,213.7 H291.2" stroke="#444" stroke-width="0.5"/>
<rect x="288.30" y="209.10" width="3.2" height="3.2" fill="#6cc4bd" stroke="#445" stroke-width="0.4"/>
<path d="M298.5,206.4 V212.4 M297.2,206.4 H299.8 M297.2,212.4 H299.8" stroke="#444" stroke-width="0.5"/>
<rect x="296.90" y="207.80" width="3.2" height="3.2" fill="#4fa3d6" stroke="#445" stroke-width="0.4"/>
<path d="M305.4,223.3 V229.3 M304.09999999999997,223.3 H306.7 M304.09999999999997,229.3 H306.7" stroke="#444" stroke-width="0.5"/>
<rect x="303.80" y="224.70" width="3.2" height="3.2" fill="#1f5fa6" stroke="#445" stroke-width="0.4"/>
<path d="M278.1,231.4 V237.4 M276.8,231.4 H279.40000000000003 M276.8,237.4 H279.40000000000003" stroke="#444" stroke-width="0.5"/>
<rect x="276.50" y="232.80" width="3.2" height="3.2" fill="#1f5fa6" stroke="#445" stroke-width="0.4"/>
<path d="M60,249.1 L61.8,251.5 L60,253.9 L58.2,251.5 Z" fill="#c8184a" stroke="#444" stroke-width="0.4"/>
<path d="M72.8,251.2 L74.6,253.6 L72.8,256.0 L71.0,253.6 Z" fill="#fff" stroke="#444" stroke-width="0.4"/>
<path d="M324.9,204.0 L326.59999999999997,206.2 L324.9,208.39999999999998 L323.2,206.2 Z" fill="#c8184a" stroke="#444" stroke-width="0.4"/>
<path d="M324.9,208.4 L326.59999999999997,210.6 L324.9,212.79999999999998 L323.2,210.6 Z" fill="#fff" stroke="#444" stroke-width="0.4"/>
<path d="M322.3,212.20000000000002 L324.0,214.4 L322.3,216.6 L320.6,214.4 Z" fill="#c8184a" stroke="#444" stroke-width="0.4"/>
<path d="M325.5,213.8 L327.2,216 L325.5,218.2 L323.8,216 Z" fill="#fff" stroke="#444" stroke-width="0.4"/>
<rect x="323.10" y="217.70" width="3.0" height="3.0" fill="#6cc4bd" stroke="#445" stroke-width="0.4"/>
<path d="M326.5,220.5 L328.2,222.7 L326.5,224.89999999999998 L324.8,222.7 Z" fill="#c8184a" stroke="#444" stroke-width="0.4"/>
<rect x="324.00" y="225.50" width="3.0" height="3.0" fill="#6cc4bd" stroke="#445" stroke-width="0.4"/>
<rect x="323.50" y="230.50" width="3.0" height="3.0" fill="#98d09a" stroke="#445" stroke-width="0.4"/>
<rect x="323.50" y="234.50" width="3.0" height="3.0" fill="#98d09a" stroke="#445" stroke-width="0.4"/>
<rect x="322.50" y="235.90" width="3.0" height="3.0" fill="#98d09a" stroke="#445" stroke-width="0.4"/>
<rect x="324.00" y="238.10" width="3.0" height="3.0" fill="#1f5fa6" stroke="#445" stroke-width="0.4"/>
<rect x="325.10" y="257.10" width="3.0" height="3.0" fill="#98d09a" stroke="#445" stroke-width="0.4"/>
<rect x="325.10" y="259.30" width="3.0" height="3.0" fill="#6cc4bd" stroke="#445" stroke-width="0.4"/>
<path d="M326.6,263.40000000000003 L328.3,265.6 L326.6,267.8 L324.90000000000003,265.6 Z" fill="#c8184a" stroke="#444" stroke-width="0.4"/>
<rect x="325.10" y="271.90" width="3.0" height="3.0" fill="#1f5fa6" stroke="#445" stroke-width="0.4"/>
<rect x="325.10" y="282.00" width="3.0" height="3.0" fill="#6cc4bd" stroke="#445" stroke-width="0.4"/>
<path d="M326.6,287.8 L328.3,290 L326.6,292.2 L324.90000000000003,290 Z" fill="#c8184a" stroke="#444" stroke-width="0.4"/>
<rect x="325.10" y="291.30" width="3.0" height="3.0" fill="#1f5fa6" stroke="#445" stroke-width="0.4"/>
<rect x="325.10" y="293.50" width="3.0" height="3.0" fill="#98d09a" stroke="#445" stroke-width="0.4"/>
<rect x="325.10" y="303.60" width="3.0" height="3.0" fill="#6cc4bd" stroke="#445" stroke-width="0.4"/>
<path d="M326.6,313.8 L328.3,316 L326.6,318.2 L324.90000000000003,316 Z" fill="#fff" stroke="#444" stroke-width="0.4"/>
<path d="M324.9,202.7 V209.7 M323.59999999999997,202.7 H326.2 M323.59999999999997,209.7 H326.2" stroke="#444" stroke-width="0.5"/>
<text x="278.40" y="190.80" font-size="8.5" fill="#111" stroke="#111" stroke-width="0.18" text-anchor="start" font-weight="normal" font-style="normal" >LHC</text>
<text x="302.60" y="190.80" font-size="8.4" fill="#111" stroke="#111" stroke-width="0.1" text-anchor="start" font-weight="bold" font-style="normal" >Atl.</text>
<text x="302.60" y="201.20" font-size="8.4" fill="#111" stroke="#111" stroke-width="0.1" text-anchor="start" font-weight="bold" font-style="normal" >Layer</text>
<rect x="29.5" y="181.7" width="313.3" height="138.8" fill="none" stroke="#888" stroke-width="0.8"/>
<line x1="29.5" y1="320.50" x2="31.5" y2="320.50" stroke="#888" stroke-width="0.5"/>
<line x1="342.8" y1="320.50" x2="340.8" y2="320.50" stroke="#888" stroke-width="0.5"/>
<text x="27.30" y="322.90" font-size="6.7" fill="#333" stroke="#333" stroke-width="0.18" text-anchor="end" font-weight="normal" font-style="normal" >0</text>
<line x1="29.5" y1="292.75" x2="31.5" y2="292.75" stroke="#888" stroke-width="0.5"/>
<line x1="342.8" y1="292.75" x2="340.8" y2="292.75" stroke="#888" stroke-width="0.5"/>
<text x="27.30" y="295.15" font-size="6.7" fill="#333" stroke="#333" stroke-width="0.18" text-anchor="end" font-weight="normal" font-style="normal" >5</text>
<line x1="29.5" y1="265.00" x2="31.5" y2="265.00" stroke="#888" stroke-width="0.5"/>
<line x1="342.8" y1="265.00" x2="340.8" y2="265.00" stroke="#888" stroke-width="0.5"/>
<text x="27.30" y="267.40" font-size="6.7" fill="#333" stroke="#333" stroke-width="0.18" text-anchor="end" font-weight="normal" font-style="normal" >10</text>
<line x1="29.5" y1="237.25" x2="31.5" y2="237.25" stroke="#888" stroke-width="0.5"/>
<line x1="342.8" y1="237.25" x2="340.8" y2="237.25" stroke="#888" stroke-width="0.5"/>
<text x="27.30" y="239.65" font-size="6.7" fill="#333" stroke="#333" stroke-width="0.18" text-anchor="end" font-weight="normal" font-style="normal" >15</text>
<line x1="29.5" y1="209.50" x2="31.5" y2="209.50" stroke="#888" stroke-width="0.5"/>
<line x1="342.8" y1="209.50" x2="340.8" y2="209.50" stroke="#888" stroke-width="0.5"/>
<text x="27.30" y="211.90" font-size="6.7" fill="#333" stroke="#333" stroke-width="0.18" text-anchor="end" font-weight="normal" font-style="normal" >20</text>
<line x1="29.5" y1="181.75" x2="31.5" y2="181.75" stroke="#888" stroke-width="0.5"/>
<line x1="342.8" y1="181.75" x2="340.8" y2="181.75" stroke="#888" stroke-width="0.5"/>
<text x="27.30" y="184.15" font-size="6.7" fill="#333" stroke="#333" stroke-width="0.18" text-anchor="end" font-weight="normal" font-style="normal" >25</text>
<line x1="56.30" y1="320.5" x2="56.30" y2="318.5" stroke="#888" stroke-width="0.5"/>
<line x1="56.30" y1="181.7" x2="56.30" y2="183.7" stroke="#888" stroke-width="0.5"/>
<text x="56.30" y="330.10" font-size="6.7" fill="#333" stroke="#333" stroke-width="0.18" text-anchor="middle" font-weight="normal" font-style="normal" >30</text>
<line x1="111.55" y1="320.5" x2="111.55" y2="318.5" stroke="#888" stroke-width="0.5"/>
<line x1="111.55" y1="181.7" x2="111.55" y2="183.7" stroke="#888" stroke-width="0.5"/>
<text x="111.55" y="330.10" font-size="6.7" fill="#333" stroke="#333" stroke-width="0.18" text-anchor="middle" font-weight="normal" font-style="normal" >31</text>
<line x1="166.80" y1="320.5" x2="166.80" y2="318.5" stroke="#888" stroke-width="0.5"/>
<line x1="166.80" y1="181.7" x2="166.80" y2="183.7" stroke="#888" stroke-width="0.5"/>
<text x="166.80" y="330.10" font-size="6.7" fill="#333" stroke="#333" stroke-width="0.18" text-anchor="middle" font-weight="normal" font-style="normal" >32</text>
<line x1="222.05" y1="320.5" x2="222.05" y2="318.5" stroke="#888" stroke-width="0.5"/>
<line x1="222.05" y1="181.7" x2="222.05" y2="183.7" stroke="#888" stroke-width="0.5"/>
<text x="222.05" y="330.10" font-size="6.7" fill="#333" stroke="#333" stroke-width="0.18" text-anchor="middle" font-weight="normal" font-style="normal" >33</text>
<line x1="277.30" y1="320.5" x2="277.30" y2="318.5" stroke="#888" stroke-width="0.5"/>
<line x1="277.30" y1="181.7" x2="277.30" y2="183.7" stroke="#888" stroke-width="0.5"/>
<text x="277.30" y="330.10" font-size="6.7" fill="#333" stroke="#333" stroke-width="0.18" text-anchor="middle" font-weight="normal" font-style="normal" >34</text>
<line x1="332.55" y1="320.5" x2="332.55" y2="318.5" stroke="#888" stroke-width="0.5"/>
<line x1="332.55" y1="181.7" x2="332.55" y2="183.7" stroke="#888" stroke-width="0.5"/>
<text x="332.55" y="330.10" font-size="6.7" fill="#333" stroke="#333" stroke-width="0.18" text-anchor="middle" font-weight="normal" font-style="normal" >35</text>
<text x="186.00" y="338.40" font-size="6.8" fill="#444" stroke="#444" stroke-width="0.18" text-anchor="middle" font-weight="normal" font-style="normal" >Salinity (psu)</text>
<g transform="translate(19.1,250.6) rotate(-90)"><text x="0.00" y="0.00" font-size="8" fill="#333" stroke="#333" stroke-width="0.18" text-anchor="middle" font-weight="normal" font-style="normal" ><tspan font-size="5.4" dy="-3">236</tspan><tspan dy="3">U (10</tspan><tspan font-size="5.4" dy="-3">6</tspan><tspan dy="3"> at L</tspan><tspan font-size="5.4" dy="-3">-1</tspan><tspan dy="3">)</tspan></text></g>
<text x="12.90" y="174.00" font-size="10" fill="#111" stroke="#111" stroke-width="0.1" text-anchor="start" font-weight="bold" font-style="normal" >c)</text>
<rect x="32.8" y="184.3" width="47.8" height="24.2" fill="#fff" stroke="#aaa" stroke-width="0.5"/>
<rect x="39.00" y="187.80" width="2.8" height="2.8" fill="#1f5fa6" stroke="#335" stroke-width="0.4"/>
<rect x="39.00" y="195.50" width="2.8" height="2.8" fill="#4fa3d6" stroke="#335" stroke-width="0.4"/>
<rect x="39.00" y="203.20" width="2.8" height="2.8" fill="#6cc4bd" stroke="#335" stroke-width="0.4"/>
<rect x="63.20" y="187.80" width="2.8" height="2.8" fill="#98d09a" stroke="#353" stroke-width="0.4"/>
<path d="M64.6,194.8 L66.1,196.9 L64.6,199.0 L63.099999999999994,196.9 Z" fill="#fff" stroke="#555" stroke-width="0.4"/>
<path d="M64.6,202.4 L66.19999999999999,204.6 L64.6,206.79999999999998 L62.99999999999999,204.6 Z" fill="#c8184a" stroke="#533" stroke-width="0.4"/>
<text x="48.60" y="191.40" font-size="6.2" fill="#222" stroke="#222" stroke-width="0.18" text-anchor="start" font-weight="normal" font-style="normal" >5</text>
<text x="48.60" y="199.10" font-size="6.2" fill="#222" stroke="#222" stroke-width="0.18" text-anchor="start" font-weight="normal" font-style="normal" >8</text>
<text x="48.60" y="206.80" font-size="6.2" fill="#222" stroke="#222" stroke-width="0.18" text-anchor="start" font-weight="normal" font-style="normal" >16</text>
<text x="72.40" y="191.40" font-size="6.2" fill="#222" stroke="#222" stroke-width="0.18" text-anchor="start" font-weight="normal" font-style="normal" >20</text>
<text x="72.40" y="199.10" font-size="6.2" fill="#222" stroke="#222" stroke-width="0.18" text-anchor="start" font-weight="normal" font-style="normal" >28</text>
<text x="72.40" y="206.80" font-size="6.2" fill="#222" stroke="#222" stroke-width="0.18" text-anchor="start" font-weight="normal" font-style="normal" >46</text>
<g clip-path="url(#cm)">
<rect x="340" y="185" width="160" height="162" fill="#d9eaf6"/>
<path d="M343,236 L345,212 L362,194 L400,184 L440,184 L480,196 L500,220 L500,252 L496,266 L490,282 L482,296 L472,306 L460,314 L448,312 L440,316 L432,322 L428,347 L406,347 L400,322 L392,300 L384,288 L372,278 L360,268 L352,256 L348,244 Z" fill="#b2d3ee"/>
<path d="M432,312 L444,306 L450,312 L446,326 L436,330 Z" fill="#b2d3ee"/>
<path d="M343,236 L346,214 L360,198 L388,188 L430,184 L440,186 L436,198 L428,208 L416,214 L404,214 L394,210 L384,204 L372,204 L362,210 L356,220 L352,232 L350,244 Z" fill="#7fb4e0"/>
<path d="M366,214 L376,210 L388,212 L398,216 L410,218 L418,214 L412,224 L402,232 L392,236 L386,228 L376,222 L368,222 Z" fill="#8dbde5"/>
<path d="M384,226 L392,224 L398,230 L392,234 Z" fill="#a9cfee"/>
<path d="M398,198 L408,196 L414,202 L404,205 Z" fill="#a3cbec"/>
<path d="M378,198 L388,196 L392,202 L384,204 Z" fill="#a3cbec"/>
<path d="M356,226 L366,220 L374,222 L372,230 L362,232 Z" fill="#96c2e6"/>
<path d="M376,232 L388,228 L396,234 L390,242 L380,242 Z" fill="#9cc6e8"/>
<path d="M358,240 L370,237 L374,243 L362,246 Z" fill="#9cc6e8"/>
<path d="M384,222 L394,220 L398,226 L390,228 Z" fill="#9cc6e8"/>
<path d="M440,186 L480,197 L500,225 L500,244 L494,262 L488,276 L481,289 L473,300 L461,307 L451,305 L442,304 L434,311 L425,318 L423.6,347 L417,347 L410,331 L404.3,313.6 L396.6,300 L394,290 L400,278 L398,266 L396,254 L400,244 L404,236 L412,226 L422,216 L430,206 Z" fill="#6eaadc"/>
<path d="M356,250 L368,246 L384,248 L398,254 L402,266 L398,276 L388,280 L376,272 L364,262 Z" fill="#bcd9f0"/>
<path d="M360,254 L372,252 L384,256 L390,264 L386,272 L374,266 L364,260 Z" fill="#d3e6f5"/>
<path d="M436,194 L450,196 L466,204 L470,212 L467,222 L459,234.4 L446.8,250 L436.5,260.4 L429.5,269 L421,275.9 L410.5,277.6 L403.6,269 L403.6,256.9 L404,246 L410,236 L418,226 L426,214 L432,204 Z" fill="#5595d1"/>
<path d="M438,186 L456,188 L472,196 L478,204 L470,212 L466,204 L450,196 L436,194 Z" fill="#6aa6da"/>
<path d="M430,185 L441,185 L438,196 L431,208 L420,218 L410,228 L402,238 L398,248 L393,244 L398,232 L408,220 L420,208 L427,196 Z" fill="#a9cfee"/>
<path d="M476,204 L481,208 L472,222 L462,236 L450,252 L438,266 L428,280 L418,296 L412,300 L416,290 L426,274 L436,260 L447,246 L458,232 L468,218 Z" fill="#7db7e4"/>
<path d="M395,274 L404,272 L406,282 L400,288 L395,286 Z" fill="#b8d7f0"/>
<path d="M418,284 L424,286 L432,300 L436,312 L430,314 L424,300 Z" fill="#9ac8eb"/>
<path d="M408,296 L413,300 L418,314 L421,330 L422,347 L418,347 L415,330 L411,312 Z" fill="#5b9ad4"/>
<path d="M402,300 L406,302 L410,318 L413,336 L410,336 L405,318 Z" fill="#96c4ea"/>
<g fill="#8fc2ea" opacity="0.45">
<path d="M412,282 L418,280 L420,286 L414,288 Z"/><path d="M426,284 L432,282 L434,290 L428,292 Z"/><path d="M438,276 L444,274 L446,280 L440,284 Z"/>
<path d="M418,262 L422,258 L426,264 L420,268 Z"/><path d="M430,252 L436,248 L438,256 L432,258 Z"/><path d="M446,262 L452,258 L454,266 L448,268 Z"/>
<path d="M460,246 L466,242 L468,250 L462,252 Z"/><path d="M472,232 L478,228 L480,236 L474,238 Z"/><path d="M456,282 L462,278 L464,286 L458,288 Z"/>
<path d="M404,250 L408,246 L410,252 L406,256 Z"/><path d="M450,214 L456,210 L458,218 L452,220 Z"/>
</g>
<g fill="#c4def2" opacity="0.6">
<path d="M362,222 L368,220 L370,226 L364,228 Z"/><path d="M380,210 L386,208 L388,214 L382,216 Z"/><path d="M392,240 L398,238 L400,244 L394,246 Z"/>
</g>
<path d="M340,262 L350,268 L362,276 L376,284 L386,292 L394,302 L400,316 L404,330 L405,347 L340,347 Z" fill="#d9eaf6"/>
<path d="M340,238 L346,244 L350.5,248 L352,256 L351.5,266 L350,274 L356.5,279 L362,280 L365.2,283.2 L370,283 L373.8,286.1 L379.6,287.6 L383,290 L385.3,293.3 L388.2,297.6 L386.8,303.4 L391.1,310.6 L396.9,316.4 L401.2,320.7 L399.8,326.5 L394,332.2 L388.2,335.1 L386,347 L340,347 Z" fill="#606060"/>
<g stroke="#e6edf3" stroke-width="0.9" fill="none" stroke-linecap="round" stroke-linejoin="round">
<path d="M351,262 L348,270 M352,276 L357,284 M356,279 L363,286 M363,283 L367,291 L366,296 M369,285 L373,292 M376,288 L381,295 L377,301 M370,300 L378,302 L385,307 M379,310 L388,313 M384,318 L393,318 M388,324 L397,324 M365,296 L372,298 M391,313 L396,320 M360,289 L366,296 M373,294 L376,300 M382,303 L386,309 M378,320 L386,322 M380,326 L390,330"/>
</g>
<g fill="none" stroke="#667788" stroke-width="0.35" stroke-dasharray="1 0.7" opacity="0.7">
<circle cx="420.1" cy="231.4" r="21.3"/>
<circle cx="420.1" cy="231.4" r="42.6"/>
<circle cx="420.1" cy="231.4" r="63.9"/>
<circle cx="420.1" cy="231.4" r="85.2"/>
<line x1="420.1" y1="231.4" x2="570.1" y2="231.4"/>
<line x1="420.1" y1="231.4" x2="550.0" y2="306.4"/>
<line x1="420.1" y1="231.4" x2="495.1" y2="361.3"/>
<line x1="420.1" y1="231.4" x2="420.1" y2="381.4"/>
<line x1="420.1" y1="231.4" x2="345.1" y2="361.3"/>
<line x1="420.1" y1="231.4" x2="290.2" y2="306.4"/>
<line x1="420.1" y1="231.4" x2="270.1" y2="231.4"/>
<line x1="420.1" y1="231.4" x2="290.2" y2="156.4"/>
<line x1="420.1" y1="231.4" x2="345.1" y2="101.5"/>
<line x1="420.1" y1="231.4" x2="420.1" y2="81.4"/>
<line x1="420.1" y1="231.4" x2="495.1" y2="101.5"/>
<line x1="420.1" y1="231.4" x2="550.0" y2="156.4"/>
</g>
</g>
<ellipse cx="419.7" cy="264.7" rx="74.6" ry="76.2" fill="none" stroke="#555" stroke-width="0.7"/>
<path d="M432.6,213 L431.3,185.5" stroke="#222" stroke-width="0.45"/>
<circle cx="432.5" cy="213.2" r="0.6" fill="#111"/>
<circle cx="403.00" cy="235.10" r="1.1" fill="#111"/>
<circle cx="405.81" cy="231.56" r="1.1" fill="#111"/>
<circle cx="408.62" cy="228.03" r="1.1" fill="#111"/>
<circle cx="411.44" cy="224.49" r="1.1" fill="#111"/>
<circle cx="414.25" cy="220.95" r="1.1" fill="#111"/>
<circle cx="417.06" cy="217.41" r="1.1" fill="#111"/>
<circle cx="419.88" cy="213.88" r="1.1" fill="#111"/>
<circle cx="422.69" cy="210.34" r="1.1" fill="#111"/>
<circle cx="425.50" cy="206.80" r="1.1" fill="#111"/>
<circle cx="420.1" cy="231.4" r="1" fill="#111"/>
<rect x="419.50" y="234.10" width="3.2" height="3.2" fill="#b4dcb0" stroke="#6a8" stroke-width="0.4"/>
<rect x="422.70" y="240.10" width="3.2" height="3.2" fill="#88cfc6" stroke="#5a9" stroke-width="0.4"/>
<rect x="439.00" y="262.70" width="3.2" height="3.2" fill="#5fb0d4" stroke="#2a6a9a" stroke-width="0.4"/>
<rect x="454.30" y="295.40" width="3.2" height="3.2" fill="#1f5fa6" stroke="#113" stroke-width="0.4"/>
<path d="M410.4,219.20000000000002 L412.29999999999995,221.8 L410.4,224.4 L408.5,221.8 Z" fill="#fff" stroke="#fff" stroke-width="0.4"/>
<path d="M392.4,263.6 L394.7,266.8 L392.4,270.0 L390.09999999999997,266.8 Z" fill="#d0205a" stroke="#a01040" stroke-width="0.4"/>
<text x="413.80" y="217.90" font-size="8.2" fill="#111" stroke="#111" stroke-width="0.1" text-anchor="middle" font-weight="bold" font-style="normal" >28</text>
<text x="428.50" y="235.80" font-size="8.2" fill="#111" stroke="#111" stroke-width="0.1" text-anchor="middle" font-weight="bold" font-style="normal" >20</text>
<text x="431.20" y="249.50" font-size="8.2" fill="#111" stroke="#111" stroke-width="0.1" text-anchor="middle" font-weight="bold" font-style="normal" >16</text>
<text x="447.30" y="267.40" font-size="8.2" fill="#111" stroke="#111" stroke-width="0.1" text-anchor="middle" font-weight="bold" font-style="normal" >8</text>
<text x="462.00" y="300.80" font-size="8.2" fill="#111" stroke="#111" stroke-width="0.1" text-anchor="middle" font-weight="bold" font-style="normal" >5</text>
<text x="382.80" y="271.10" font-size="8.2" fill="#111" stroke="#111" stroke-width="0.1" text-anchor="middle" font-weight="bold" font-style="normal" >46</text>
<text x="351.60" y="250.60" font-size="10.1" fill="#111" stroke="#111" stroke-width="0.1" text-anchor="start" font-weight="bold" font-style="normal" >Section 2</text>
<text x="442.00" y="243.20" font-size="10.2" fill="#111" stroke="#111" stroke-width="0.1" text-anchor="start" font-weight="bold" font-style="normal" >Section 1</text>
<g transform="translate(391.5,211) rotate(-19)"><text x="0.00" y="0.00" font-size="8.3" fill="#222" stroke="#222" stroke-width="0.18" text-anchor="start" font-weight="normal" font-style="italic" >Makarov B.</text></g>
<g transform="translate(436.4,243) rotate(-55.6)"><text x="0.00" y="0.00" font-size="7.9" fill="#222" stroke="#222" stroke-width="0.18" text-anchor="start" font-weight="normal" font-style="italic" >Amundsen B.</text></g>
<g transform="translate(461.5,279) rotate(-60)"><text x="0.00" y="0.00" font-size="7.9" fill="#222" stroke="#222" stroke-width="0.18" text-anchor="start" font-weight="normal" font-style="italic" >Nansen B.</text></g>
<g transform="translate(354.5,298) rotate(49)"><text x="0.00" y="0.00" font-size="7.5" fill="#e0e0e0" stroke="#e0e0e0" stroke-width="0.18" text-anchor="start" font-weight="normal" font-style="normal" >Greenland</text></g>
<text x="406.40" y="186.80" font-size="8.1" fill="#222" stroke="#222" stroke-width="0.18" text-anchor="start" font-weight="normal" font-style="italic" >Lomonosov Ridge</text>
</svg></body></html>
